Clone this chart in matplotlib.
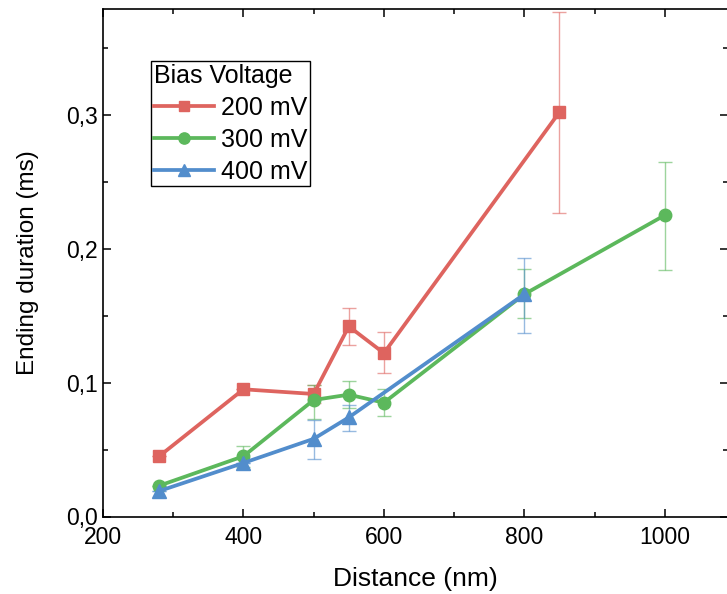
import numpy as np
import matplotlib
matplotlib.use('Agg')
import matplotlib.pyplot as plt
from matplotlib.ticker import MultipleLocator, FuncFormatter

plt.rcParams['font.family'] = ['Liberation Sans', 'DejaVu Sans']

# data
dist_200 = [280, 400, 500, 550, 600, 850]
val_200 = [0.045, 0.095, 0.0915, 0.142, 0.122, 0.302]
lo_200 = [0.045, 0.095, 0.085, 0.128, 0.107, 0.227]
hi_200 = [0.045, 0.095, 0.098, 0.156, 0.138, 0.377]

dist_300 = [280, 400, 500, 550, 600, 800, 1000]
val_300 = [0.023, 0.045, 0.087, 0.091, 0.085, 0.166, 0.225]
lo_300 = [0.023, 0.037, 0.073, 0.081, 0.075, 0.148, 0.184]
hi_300 = [0.023, 0.053, 0.098, 0.101, 0.095, 0.185, 0.265]

dist_400 = [280, 400, 500, 550, 800]
val_400 = [0.019, 0.040, 0.058, 0.074, 0.166]
lo_400 = [0.019, 0.040, 0.043, 0.064, 0.137]
hi_400 = [0.019, 0.040, 0.072, 0.083, 0.193]

labels = ['200 mV', '300 mV', '400 mV']
colors = ['#DE645F', '#5CB85C', '#528DCC']
markers = ['s', 'o', '^']
msizes = [8.5, 9, 10]

series = [(dist_200, val_200, lo_200, hi_200),
          (dist_300, val_300, lo_300, hi_300),
          (dist_400, val_400, lo_400, hi_400)]

fig = plt.figure(figsize=(7.27, 5.94), dpi=100)
ax = fig.add_axes([103/727, 1-516.5/594, 625/727, (516.5-9)/594])

for (x, y, lo, hi), lab, c, m, ms in zip(series, labels, colors, markers, msizes):
    x = np.array(x); y = np.array(y)
    yerr = [y - np.array(lo), np.array(hi) - y]
    ax.errorbar(x, y, yerr=yerr, fmt='none', ecolor=c, elinewidth=1.0,
                capsize=5, capthick=1.0, alpha=0.6, zorder=2)
    ax.plot(x, y, color=c, lw=2.7, marker=m, ms=ms, label=lab, zorder=3)

ax.set_xlim(200, 1090)
ax.set_ylim(0, 0.379)
ax.xaxis.set_major_locator(MultipleLocator(200))
ax.xaxis.set_minor_locator(MultipleLocator(100))
ax.yaxis.set_major_locator(MultipleLocator(0.1))
ax.yaxis.set_minor_locator(MultipleLocator(0.05))
ax.yaxis.set_major_formatter(FuncFormatter(lambda v, p: ('%.1f' % v).replace('.', ',')))
ax.tick_params(which='both', direction='in', top=True, right=True, labelsize=16.5, width=1.1)
ax.tick_params(which='major', length=6)
ax.tick_params(which='minor', length=3.5)
ax.tick_params(axis='x', pad=7)
for s in ax.spines.values():
    s.set_linewidth(1.2)

ax.set_xlabel('Distance (nm)', fontsize=19, labelpad=13)
ax.set_ylabel('Ending duration (ms)', fontsize=17.5, labelpad=20)

leg = ax.legend(title='Bias Voltage', loc='upper left', bbox_to_anchor=(0.077, 0.897),
                fontsize=18, title_fontsize=18, fancybox=False, edgecolor='black',
                framealpha=1, handlelength=2.4, borderpad=0.1, labelspacing=0.32,
                handletextpad=0.3, borderaxespad=0, markerscale=0.9)
leg._legend_box.align = 'left'
leg.get_frame().set_linewidth(1.0)

fig.savefig('out.png', dpi=100)
